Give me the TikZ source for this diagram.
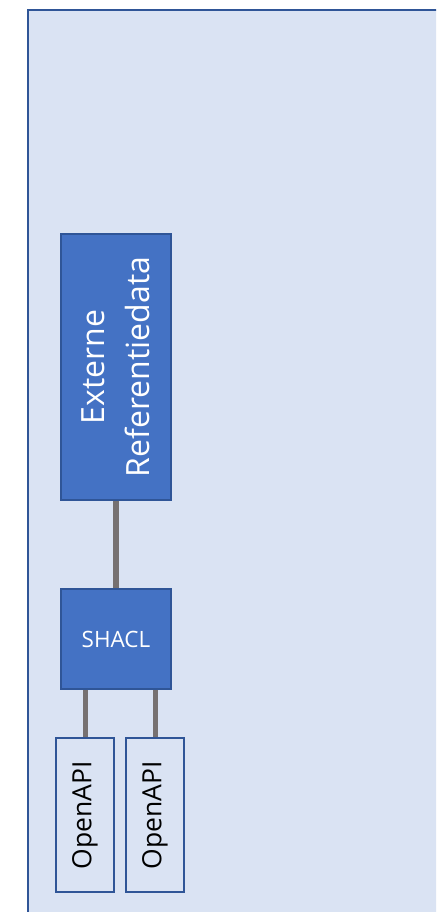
\documentclass[tikz,border=0pt]{standalone}
\usepackage{fontspec}
\setmainfont{Open Sans}
\usepackage{xcolor}
\usetikzlibrary{positioning}
\definecolor{panel}{HTML}{DAE3F3}
\definecolor{edgeblue}{HTML}{2F5597}
\definecolor{boxblue}{HTML}{4472C4}
\definecolor{linkgrey}{HTML}{767171}
\tikzset{
  filled/.style={draw=edgeblue,line width=1.5pt,fill=boxblue,text=white,align=center,inner sep=0pt},
  plain/.style={draw=edgeblue,line width=1.5pt,fill=panel,text=black,inner sep=0pt},
}

\begin{document}
\begin{tikzpicture}[x=1pt,y=1pt]
		\clip (0,0) rectangle (436,912);
		\draw[edgeblue,fill=panel,line width=2pt] (28,901.5) rectangle (470,-30);
		%
		\node[filled,rotate=90,minimum width=266,minimum height=110,font=\fontsize{32}{45}\selectfont] (E) at (116,545) {Externe\\Referentiedata};
		\node[filled,minimum width=110,minimum height=100,font=\fontsize{22.5}{28}\selectfont] (S) at (116,273) {SHACL};
		\node[plain,rotate=90,minimum width=154,minimum height=58,font=\fontsize{26.5}{32}\selectfont] (O1) at (85,97) {OpenAPI};
		\node[plain,rotate=90,minimum width=154,minimum height=58,font=\fontsize{26.5}{32}\selectfont] (O2) at (155,97) {OpenAPI};
		%
		\path[-,draw=linkgrey]
		% upper link
		(E) edge[line width=6pt] (S)
		% lower links
		(S.south -| O1) edge[line width=5pt] (O1)
		(S.south -| O2) edge[line width=5pt] (O2);
\end{tikzpicture}
\end{document}
